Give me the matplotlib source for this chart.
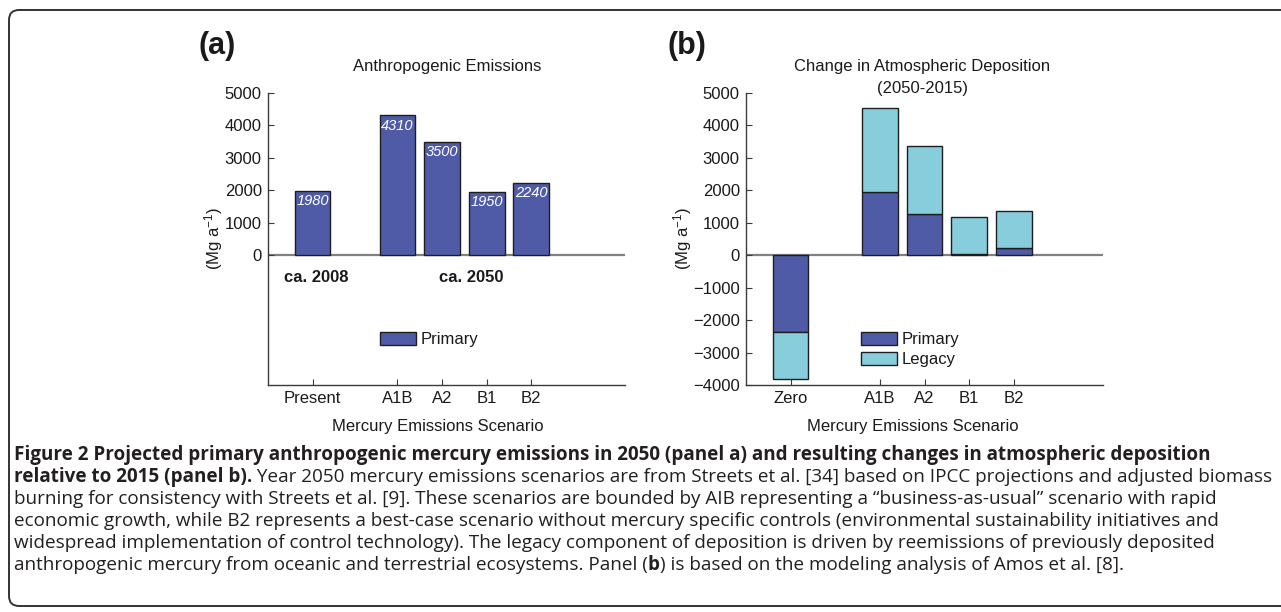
import matplotlib
matplotlib.use('Agg')
import matplotlib.pyplot as plt
from matplotlib.patches import FancyBboxPatch
from matplotlib.transforms import IdentityTransform

# ---------------- data ----------------
emis_scen = ['Present', 'A1B', 'A2', 'B1', 'B2']
emis_primary = [1980, 4310, 3500, 1950, 2240]
emis_labels = ['1980', '4310', '3500', '1950', '2240']
emis_groups = ['ca. 2008', 'ca. 2050']

dep_scen = ['Zero', 'A1B', 'A2', 'B1', 'B2']
dep_primary = [-2360, 1960, 1280, 30, 230]
dep_legacy = [-1470, 2590, 2090, 1150, 1130]

yticks_a = [0, 1000, 2000, 3000, 4000, 5000]
yticks_b = [-4000, -3000, -2000, -1000, 0, 1000, 2000, 3000, 4000, 5000]

caption_lines = [
    [("Figure 2 Projected primary anthropogenic mercury emissions in 2050 (panel a) and resulting changes in atmospheric deposition", 'bold')],
    [("relative to 2015 (panel b).", 'bold'),
     (" Year 2050 mercury emissions scenarios are from Streets et al. [34] based on IPCC projections and adjusted biomass", 'normal')],
    [("burning for consistency with Streets et al. [9]. These scenarios are bounded by AIB representing a \u201cbusiness-as-usual\u201d scenario with rapid", 'normal')],
    [("economic growth, while B2 represents a best-case scenario without mercury specific controls (environmental sustainability initiatives and", 'normal')],
    [("widespread implementation of control technology). The legacy component of deposition is driven by reemissions of previously deposited", 'normal')],
    [("anthropogenic mercury from oceanic and terrestrial ecosystems. Panel (", 'normal'), ("b", 'bold'),
     (") is based on the modeling analysis of Amos et al. [8].", 'normal')],
]

# ---------------- style ----------------
W, H = 1281, 612
plt.rcParams['font.family'] = ['Liberation Sans', 'DejaVu Sans']
plt.rcParams['mathtext.fontset'] = 'custom'
plt.rcParams['mathtext.rm'] = 'Liberation Sans'
plt.rcParams['mathtext.it'] = 'Liberation Sans:italic'
plt.rcParams['mathtext.bf'] = 'Liberation Sans:bold'

PRIMARY = '#4f5ba6'
LEGACY = '#88cddb'
EDGE = '#1e1e1e'
TXT = '#1a1a1a'

fig = plt.figure(figsize=(W / 100, H / 100), dpi=100)
fig.patch.set_facecolor('white')


def fx(x):
    return x / W


def fy(y):
    return 1 - y / H


axa = fig.add_axes([fx(268), fy(385), fx(625) - fx(268), fy(93) - fy(385)])
axb = fig.add_axes([fx(746), fy(385), fx(1103) - fx(746), fy(93) - fy(385)])

pos_a = [1, 2.9, 3.9, 4.9, 5.9]
pos_b = [1, 3, 4, 5, 6]

for ax in (axa, axb):
    ax.set_xlim(0, 8)
    ax.set_ylim(-4000, 5000)
    ax.set_facecolor('none')
    for s in ['top', 'right']:
        ax.spines[s].set_visible(False)
    for s in ['left', 'bottom']:
        ax.spines[s].set_color('#3a3a3a')
        ax.spines[s].set_linewidth(1.0)
    ax.tick_params(direction='in', length=4, width=0.8, colors='#3a3a3a',
                   labelcolor=TXT, labelsize=12)
    ax.tick_params(axis='y', pad=4.5)
    ax.tick_params(axis='x', pad=4)
    ax.axhline(0, color='#808080', lw=1.6, zorder=1)

LEG_KW = dict(loc='upper left', bbox_transform=fig.transFigure, frameon=False, borderpad=0,
              borderaxespad=0, handlelength=2.16, handleheight=0.84, handletextpad=0.25,
              fontsize=12, labelspacing=0.29, labelcolor=TXT)

# panel a
bars_a = axa.bar(pos_a, emis_primary, width=0.8, color=PRIMARY, edgecolor=EDGE,
                 linewidth=1.0, zorder=2, label='Primary')
for x, v, lab in zip(pos_a, emis_primary, emis_labels):
    axa.annotate(lab, (x, v), xytext=(0, -2.5), textcoords='offset points',
                 ha='center', va='top', color='white', style='italic', fontsize=10.5, zorder=3)
axa.set_xticks(pos_a)
axa.set_xticklabels(emis_scen)
axa.set_yticks(yticks_a)
axa.set_ylabel('(Mg a$^{-1}$)', fontsize=12, color=TXT)
axa.yaxis.set_label_coords(-0.12, 0.5)
axa.legend(handles=[bars_a], bbox_to_anchor=(fx(380), fy(331.5)), **LEG_KW)

# panel b
bars_bp = axb.bar(pos_b, dep_primary, width=0.8, color=PRIMARY, edgecolor=EDGE,
                  linewidth=1.0, zorder=2, label='Primary')
bars_bl = axb.bar(pos_b, dep_legacy, bottom=dep_primary, width=0.8, color=LEGACY,
                  edgecolor=EDGE, linewidth=1.0, zorder=2, label='Legacy')
axb.set_xticks(pos_b)
axb.set_xticklabels(dep_scen)
axb.set_yticks(yticks_b)
axb.set_ylabel('(Mg a$^{-1}$)', fontsize=12, color=TXT)
axb.yaxis.set_label_coords(-0.145, 0.5)
axb.legend(handles=[bars_bp, bars_bl], bbox_to_anchor=(fx(861), fy(331.5)), **LEG_KW)

# texts
fig.text(fx(217), fy(46), '(a)', fontsize=22, fontweight='bold', ha='center', va='center', color=TXT)
fig.text(fx(687), fy(46), '(b)', fontsize=22, fontweight='bold', ha='center', va='center', color=TXT)
fig.text(fx(447), fy(66), 'Anthropogenic Emissions', fontsize=12, ha='center', va='center', color=TXT)
fig.text(fx(922), fy(67), 'Change in Atmospheric Deposition', fontsize=12, ha='center', va='center', color=TXT)
fig.text(fx(923), fy(89), '(2050-2015)', fontsize=12, ha='center', va='center', color=TXT)
fig.text(fx(316), fy(278), emis_groups[0], fontsize=12, fontweight='bold', ha='center', va='center', color=TXT)
fig.text(fx(471), fy(278), emis_groups[1], fontsize=12, fontweight='bold', ha='center', va='center', color=TXT)
fig.text(fx(438), fy(427), 'Mercury Emissions Scenario', fontsize=12, ha='center', va='center', color=TXT)
fig.text(fx(913), fy(427), 'Mercury Emissions Scenario', fontsize=12, ha='center', va='center', color=TXT)

# frame around figure
box = FancyBboxPatch((9, 612 - 606), 1330, 596, boxstyle='round,pad=0,rounding_size=10',
                     transform=IdentityTransform(), fill=False, ec='#333333', lw=1.4)
fig.add_artist(box)

# caption
r = fig.canvas.get_renderer()
CAP_FAMILY = ['Open Sans', 'DejaVu Sans']
base_fs = 13.0
ref_ends = [1255, 1263, 1117, 1232, 1251, 1138]


def line_width(pieces, fs):
    w = 0
    for txt, weight in pieces:
        p = fig.text(0, 0, txt, fontsize=fs, fontweight=weight, family=CAP_FAMILY)
        w += p.get_window_extent(renderer=r).width
        p.remove()
    return w


widths = [line_width(p, base_fs) for p in caption_lines]
ratios = [(ref_ends[i] - 14) / widths[i] for i in (1, 3, 4)]
scale = sorted(ratios)[1]
scale = min(scale, min((1268 - 14) / w for w in widths))
cap_fs = base_fs * scale

y0 = 460
for i, pieces in enumerate(caption_lines):
    x = 14
    yb = y0 + 22 * i
    for txt, weight in pieces:
        t = fig.text(fx(x), fy(yb), txt, fontsize=cap_fs, fontweight=weight, family=CAP_FAMILY,
                     ha='left', va='baseline', color='#231f20')
        x = t.get_window_extent(renderer=r).x1

fig.savefig('out.png', dpi=100)
